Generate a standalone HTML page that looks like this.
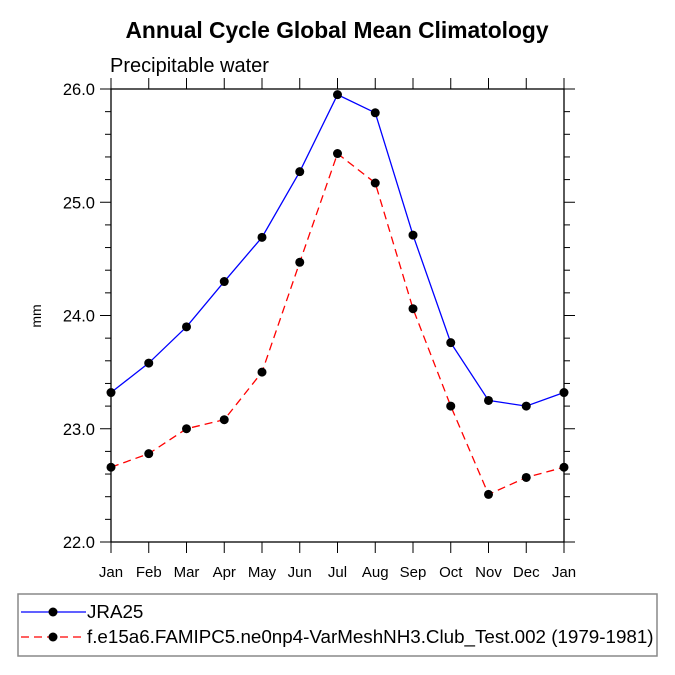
<!DOCTYPE html>
<html><head><meta charset="utf-8"><style>
body{margin:0;background:#fff;}
svg{display:block;font-family:"Liberation Sans",Arial,sans-serif;}
</style></head><body>
<svg id="c" width="675" height="675" viewBox="0 0 675 675">
<text x="337" y="38" text-anchor="middle" font-size="22.8" font-weight="bold">Annual Cycle Global Mean Climatology</text>
<text x="110" y="72" font-size="20">Precipitable water</text>
<text transform="translate(41,316) rotate(-90)" text-anchor="middle" font-size="14">mm</text>
<g id="axes"></g>
<g id="series"></g>
<rect x="18" y="594" width="639" height="62" fill="none" stroke="#888" stroke-width="1.5"/>
<g>
<line x1="21" y1="612" x2="86" y2="612" stroke="#00f" stroke-width="1.3"/>
<circle cx="53" cy="612" r="4.5" fill="#000"/>
<text x="87" y="618" font-size="18.8">JRA25</text></g>
<g>
<line x1="21" y1="637" x2="86" y2="637" stroke="#f00" stroke-width="1.3" stroke-dasharray="8,5"/>
<circle cx="53" cy="637" r="4.5" fill="#000"/>
<text x="87" y="643" font-size="18.8">f.e15a6.FAMIPC5.ne0np4-VarMeshNH3.Club_Test.002 (1979-1981)</text></g>
</svg>
<script>
const months=["Jan","Feb","Mar","Apr","May","Jun","Jul","Aug","Sep","Oct","Nov","Dec","Jan"];
const yTicks=[22.0,23.0,24.0,25.0,26.0];
const jra25=[23.32,23.58,23.90,24.30,24.69,25.27,25.95,25.79,24.71,23.76,23.25,23.20,23.32];
const model=[22.66,22.78,23.00,23.08,23.50,24.47,25.43,25.17,24.06,23.20,22.42,22.57,22.66];
const X0=111,X1=564,Y0=542,Y1=89,YMIN=22,YMAX=26;
const xs=i=>X0+(X1-X0)*i/(months.length-1);
const ys=v=>Y0-(Y0-Y1)*(v-YMIN)/(YMAX-YMIN);
const NS="http://www.w3.org/2000/svg";
function mk(t,a,p){const e=document.createElementNS(NS,t);for(const k in a)e.setAttribute(k,a[k]);p.appendChild(e);return e;}
const ax=document.getElementById('axes');
const fr=mk('rect',{x:X0,y:Y1,width:X1-X0,height:Y0-Y1,fill:'none',stroke:'#000','stroke-width':1.3},ax);


months.forEach((m,i)=>{const x=xs(i);
mk('line',{x1:x,y1:Y0,x2:x,y2:Y0+11,stroke:'#000'},ax);
mk('line',{x1:x,y1:Y1,x2:x,y2:Y1-11,stroke:'#000'},ax);
const t=mk('text',{x:x,y:Y0+35,'text-anchor':'middle','font-size':15},ax);t.textContent=m;

});
for(let v=YMIN;v<=YMAX+1e-9;v+=0.2){const y=ys(v);const maj=Math.abs(v-Math.round(v))<1e-6;const L=maj?11:6;
mk('line',{x1:X0-L,y1:y,x2:X0,y2:y,stroke:'#000'},ax);
mk('line',{x1:X1,y1:y,x2:X1+L,y2:y,stroke:'#000'},ax);}
yTicks.forEach(v=>{const t=mk('text',{x:X0-16,y:ys(v)+6,'text-anchor':'end','font-size':16.5},ax);t.textContent=v.toFixed(1);

});
const sg=document.getElementById('series');
function series(d,col,dash,name){const g=mk('g',{},sg);


const a={points:d.map((v,i)=>xs(i)+','+ys(v)).join(' '),fill:'none',stroke:col,'stroke-width':1.3};if(dash)a['stroke-dasharray']=dash;mk('polyline',a,g);
d.forEach((v,i)=>{const c=mk('circle',{cx:xs(i),cy:ys(v),r:4.5,fill:'#000'},g);

});}
series(jra25,'#00f',null,'series-jra25');
series(model,'#f00','8,5','series-model');
</script>
</body></html>
